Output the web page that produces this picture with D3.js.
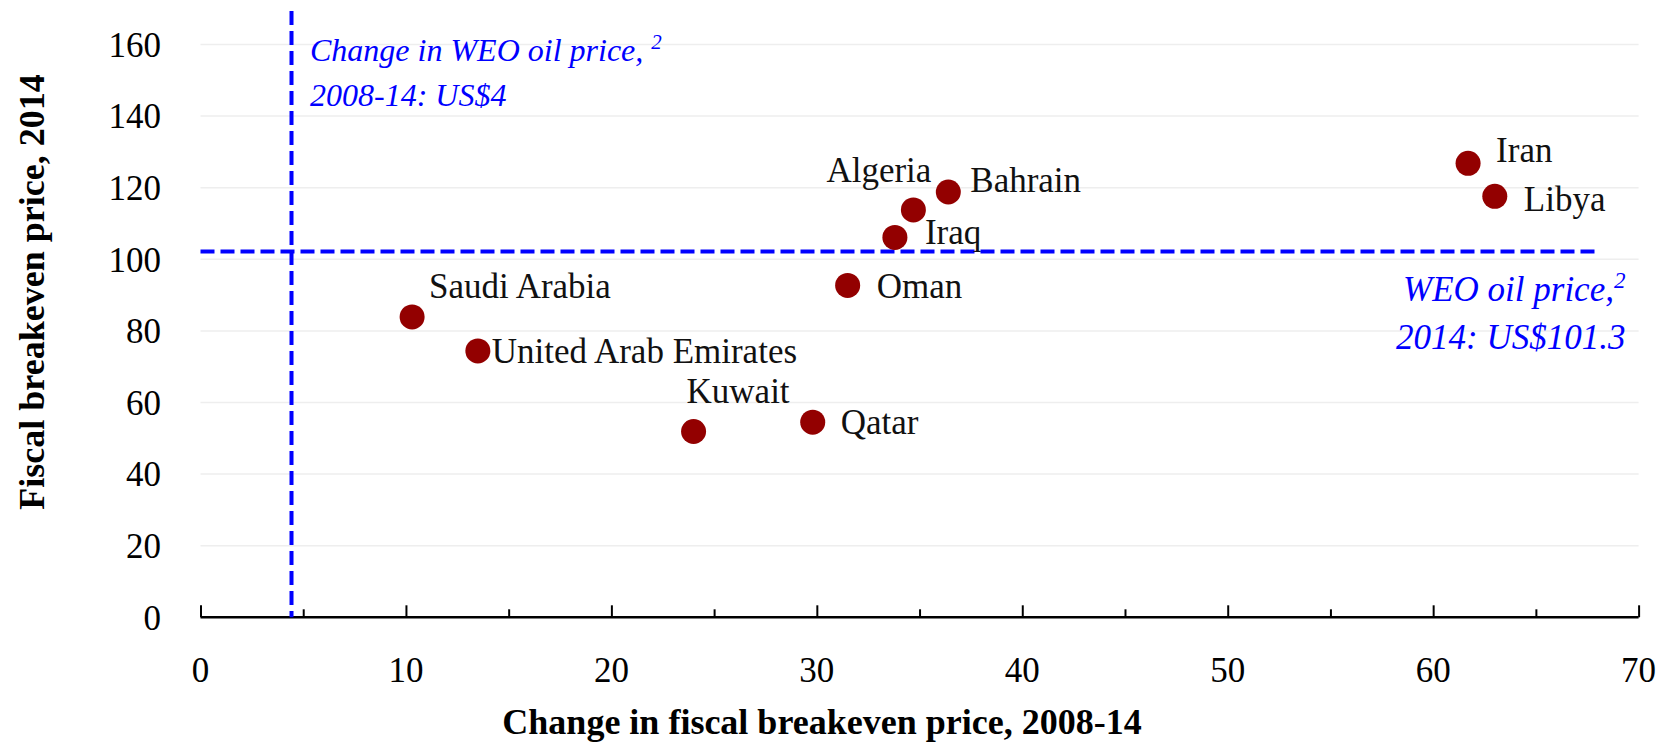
<!DOCTYPE html>
<html>
<head>
<meta charset="utf-8">
<script src="https://cdn.jsdelivr.net/npm/d3@7"></script>
<style>
  body { margin: 0; background: #fff; }
  text { font-family: "Liberation Serif", "Times New Roman", serif; }
</style>
</head>
<body>
<div id="chart"></div>
<script>
// data
var countries = ["Saudi Arabia", "United Arab Emirates", "Kuwait", "Qatar", "Oman",
                 "Iraq", "Algeria", "Bahrain", "Iran", "Libya"];
var changeBreakeven = [10.3, 13.5, 24.0, 29.8, 31.5, 33.8, 34.7, 36.4, 61.7, 63.0];
var breakeven2014 = [83.9, 74.4, 51.9, 54.5, 92.7, 106.1, 113.8, 118.8, 126.8, 117.6];
var xTicks = [0, 10, 20, 30, 40, 50, 60, 70];
var yTicks = [0, 20, 40, 60, 80, 100, 120, 140, 160];
var oilPriceChange = 4.43;   // where the vertical line sits
var oilPrice2014 = 102.2;    // where the horizontal line sits

// label placement relative to each dot (dx, dy, anchor)
var labelPos = [
    [17, -31, "start"], [14, 0, "start"], [-7, -41, "start"], [28, 0, "start"],
    [29, 0, "start"], [30, -6, "start"], [18, -40, "end"], [22, -12, "start"],
    [28, -14, "start"], [29, 2, "start"]
];

function init() {
    var w = 1663;
    var h = 744;

    var xScale = d3.scaleLinear()
        .domain([0, 70])
        .range([200.5, 1638.6]);

    var yScale = d3.scaleLinear()
        .domain([0, 160])
        .range([617.3, 44.5]);

    var svg = d3.select("#chart")
        .append("svg")
        .attr("width", w)
        .attr("height", h);

    // gridlines
    svg.selectAll("line.grid")
        .data(yTicks.slice(1))
        .enter()
        .append("line")
        .attr("class", "grid")
        .attr("x1", xScale(0))
        .attr("x2", xScale(70))
        .attr("y1", function(d){ return yScale(d); })
        .attr("y2", function(d){ return yScale(d); })
        .style("stroke", "#eeeeee")
        .style("stroke-width", 1.5);

    // y tick labels
    svg.selectAll("text.ytick")
        .data(yTicks)
        .enter()
        .append("text")
        .attr("class", "ytick")
        .attr("x", 161)
        .attr("y", function(d){ return yScale(d); })
        .attr("dy", "0.35em")
        .attr("text-anchor", "end")
        .style("font-size", "35px")
        .text(function(d){ return d; });

    // x axis
    var xAxis = d3.axisTop(xScale)
        .tickValues(d3.range(0, 71, 5))
        .tickSize(10)
        .tickFormat("");
    var gx = svg.append("g")
        .attr("transform", "translate(0," + yScale(0) + ")")
        .call(xAxis);
    gx.select(".domain").style("stroke", "#000").style("stroke-width", 2.5)
        .attr("d", "M" + xScale(0) + ",0H" + xScale(70));
    gx.selectAll(".tick line")
        .style("stroke", "#000")
        .style("stroke-width", 2)
        .attr("y2", function(d){ return d % 10 === 0 ? -12 : -8; });

    svg.selectAll("text.xtick")
        .data(xTicks)
        .enter()
        .append("text")
        .attr("class", "xtick")
        .attr("x", function(d){ return xScale(d); })
        .attr("y", 670)
        .attr("dy", "0.35em")
        .attr("text-anchor", "middle")
        .style("font-size", "35px")
        .text(function(d){ return d; });

    // reference lines
    svg.append("line")
        .attr("x1", xScale(oilPriceChange))
        .attr("x2", xScale(oilPriceChange))
        .attr("y1", 11)
        .attr("y2", yScale(0))
        .style("stroke", "#0000ff")
        .style("stroke-width", 4)
        .style("stroke-dasharray", "14,6");

    svg.append("line")
        .attr("x1", xScale(0))
        .attr("x2", xScale(68))
        .attr("y1", yScale(oilPrice2014))
        .attr("y2", yScale(oilPrice2014))
        .style("stroke", "#0000ff")
        .style("stroke-width", 4)
        .style("stroke-dasharray", "14,6");

    // dots
    svg.selectAll("circle")
        .data(countries)
        .enter()
        .append("circle")
        .attr("cx", function(d, i){ return xScale(changeBreakeven[i]); })
        .attr("cy", function(d, i){ return yScale(breakeven2014[i]); })
        .attr("r", 12.5)
        .style("fill", "#930000");

    svg.selectAll("text.lbl")
        .data(countries)
        .enter()
        .append("text")
        .attr("class", "lbl")
        .attr("x", function(d, i){ return xScale(changeBreakeven[i]) + labelPos[i][0]; })
        .attr("y", function(d, i){ return yScale(breakeven2014[i]) + labelPos[i][1]; })
        .attr("dy", "0.35em")
        .attr("text-anchor", function(d, i){ return labelPos[i][2]; })
        .style("font-size", "35px")
        .style("fill", "#111")
        .text(function(d){ return d; });

    // annotations
    var note1 = svg.append("text")
        .style("font-size", "32px")
        .style("font-style", "italic")
        .style("fill", "#0000ff");
    note1.append("tspan").attr("x", 310).attr("y", 61).text("Change in WEO oil price, ");
    note1.append("tspan").attr("dy", -12).style("font-size", "21px").text("2");
    note1.append("tspan").attr("x", 310).attr("y", 106).text("2008-14: US$4");

    var note2 = svg.append("text")
        .style("font-size", "35px")
        .style("font-style", "italic")
        .style("fill", "#0000ff");
    note2.append("tspan").attr("x", 1403).attr("y", 301).text("WEO oil price,");
    note2.append("tspan").attr("dy", -13).style("font-size", "23px").text("2");
    note2.append("tspan").attr("x", 1396).attr("y", 349).text("2014: US$101.3");

    // axis titles
    svg.append("text")
        .attr("x", 822)
        .attr("y", 721)
        .attr("dy", "0.35em")
        .attr("text-anchor", "middle")
        .style("font-size", "36px")
        .style("font-weight", "bold")
        .text("Change in fiscal breakeven price, 2008-14");

    svg.append("text")
        .attr("transform", "translate(31,292) rotate(-90)")
        .attr("dy", "0.35em")
        .attr("text-anchor", "middle")
        .style("font-size", "36px")
        .style("font-weight", "bold")
        .text("Fiscal breakeven price, 2014");
}

window.onload = init;
</script>
</body>
</html>
